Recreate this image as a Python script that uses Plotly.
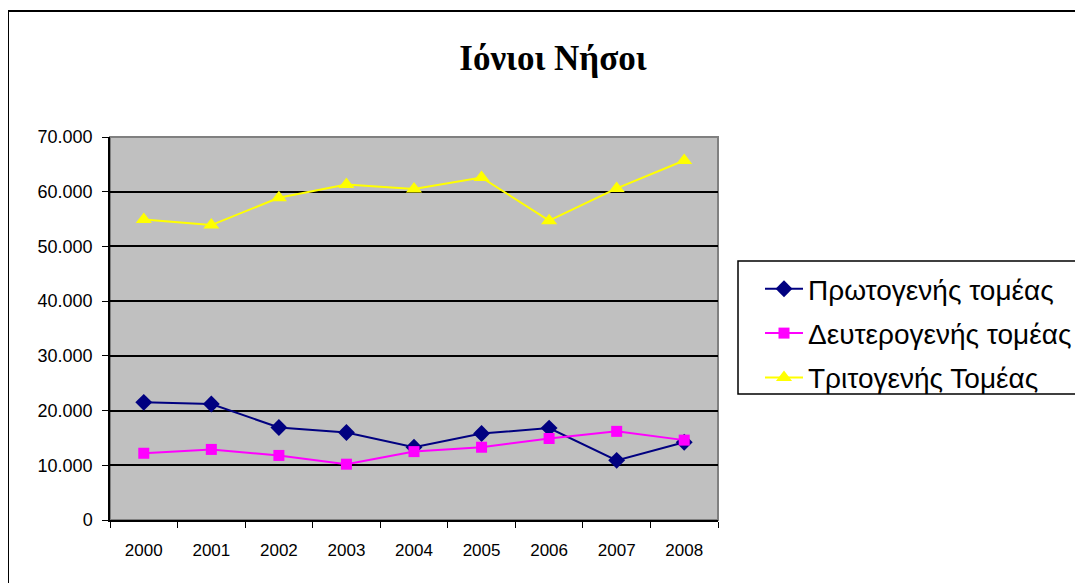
import plotly.graph_objects as go

years = ["2000", "2001", "2002", "2003", "2004", "2005", "2006", "2007", "2008"]
primary = [21500, 21200, 16900, 16000, 13300, 15800, 16800, 10900, 14200]
secondary = [12200, 12900, 11800, 10200, 12500, 13300, 14900, 16200, 14600]
tertiary = [54900, 53900, 58900, 61300, 60500, 62600, 54700, 60600, 65700]

series_names = ["Πρωτογενής τομέας", "Δευτερογενής τομέας", "Τριτογενής Τομέας"]
y_ticks = [0, 10000, 20000, 30000, 40000, 50000, 60000, 70000]

# the page body has an 8px margin, so the figure starts at (8, 8)
O = 8
W, H = 1083 - O, 583 - O
# plot area, in page pixels
L, R, T, B = 110, 718, 137, 520


def px(x):
    return (x - L) / (R - L)


def py(y):
    return (B - y) / (B - T)


fig = go.Figure()

fig.add_trace(go.Scatter(
    x=years, y=primary, name=series_names[0], legendgroup="a",
    mode="lines+markers",
    line=dict(color="#000080", width=2),
    marker=dict(symbol="diamond", size=13, color="#000080"),
))
fig.add_trace(go.Scatter(
    x=years, y=secondary, name=series_names[1], legendgroup="b",
    mode="lines+markers",
    line=dict(color="#FF00FF", width=2),
    marker=dict(symbol="square", size=11, color="#FF00FF"),
))
fig.add_trace(go.Scatter(
    x=years, y=tertiary, name=series_names[2], legendgroup="c",
    mode="lines+markers",
    line=dict(color="#FFFF00", width=2),
    marker=dict(symbol="triangle-up", size=14, color="#FFFF00"),
))

shapes = [
    # outer chart border
    dict(type="rect", xref="paper", yref="paper",
         x0=px(8), x1=px(1095), y0=py(600), y1=py(11),
         line=dict(color="black", width=2), fillcolor="rgba(0,0,0,0)", layer="above"),
    # plot area frame (grey top/right)
    dict(type="rect", xref="paper", yref="paper", x0=0, x1=1, y0=0, y1=1,
         line=dict(color="#808080", width=2), fillcolor="rgba(0,0,0,0)", layer="below"),
    # legend box
    dict(type="rect", xref="paper", yref="paper",
         x0=px(738), x1=px(1095), y0=py(394), y1=py(261),
         line=dict(color="black", width=1.5), fillcolor="rgba(0,0,0,0)"),
]

fig.update_layout(
    width=W, height=H,
    margin=dict(l=L - O, r=1083 - R, t=T - O, b=583 - B, autoexpand=False),
    paper_bgcolor="white",
    plot_bgcolor="#C0C0C0",
    separators=",.",
    font=dict(family="Liberation Sans, Arial, sans-serif", color="black"),
    title=dict(
        text="<b>Ιόνιοι Νήσοι</b>",
        font=dict(family="Liberation Serif, Times New Roman, serif", size=35, color="black"),
        x=px(553), xref="paper", xanchor="center",
        y=1 - (58 - O) / H, yref="container", yanchor="middle",
    ),
    xaxis=dict(
        type="category", range=[-0.5, 8.5],
        showgrid=False, showline=True, linecolor="black", linewidth=1.5,
        ticks="outside", tickson="boundaries", ticklen=6, tickcolor="black", tickwidth=1,
        tickfont=dict(size=17), ticklabelstandoff=14, zeroline=False,
    ),
    yaxis=dict(
        range=[0, 70000], tickvals=y_ticks, tickformat=",d",
        showgrid=True, gridcolor="black", gridwidth=1.5,
        showline=True, linecolor="black", linewidth=1.5,
        ticks="outside", ticklen=6, tickcolor="black", tickwidth=1,
        tickfont=dict(size=18), ticklabelstandoff=6, zeroline=False,
    ),
    legend=dict(
        x=px(760), y=py(264), xanchor="left", yanchor="top",
        font=dict(size=28, color="black"),
        bgcolor="rgba(0,0,0,0)", borderwidth=0,
        tracegroupgap=5, itemwidth=38, itemclick=False,
    ),
    shapes=shapes,
    showlegend=True,
)

fig.write_html("out.html")
